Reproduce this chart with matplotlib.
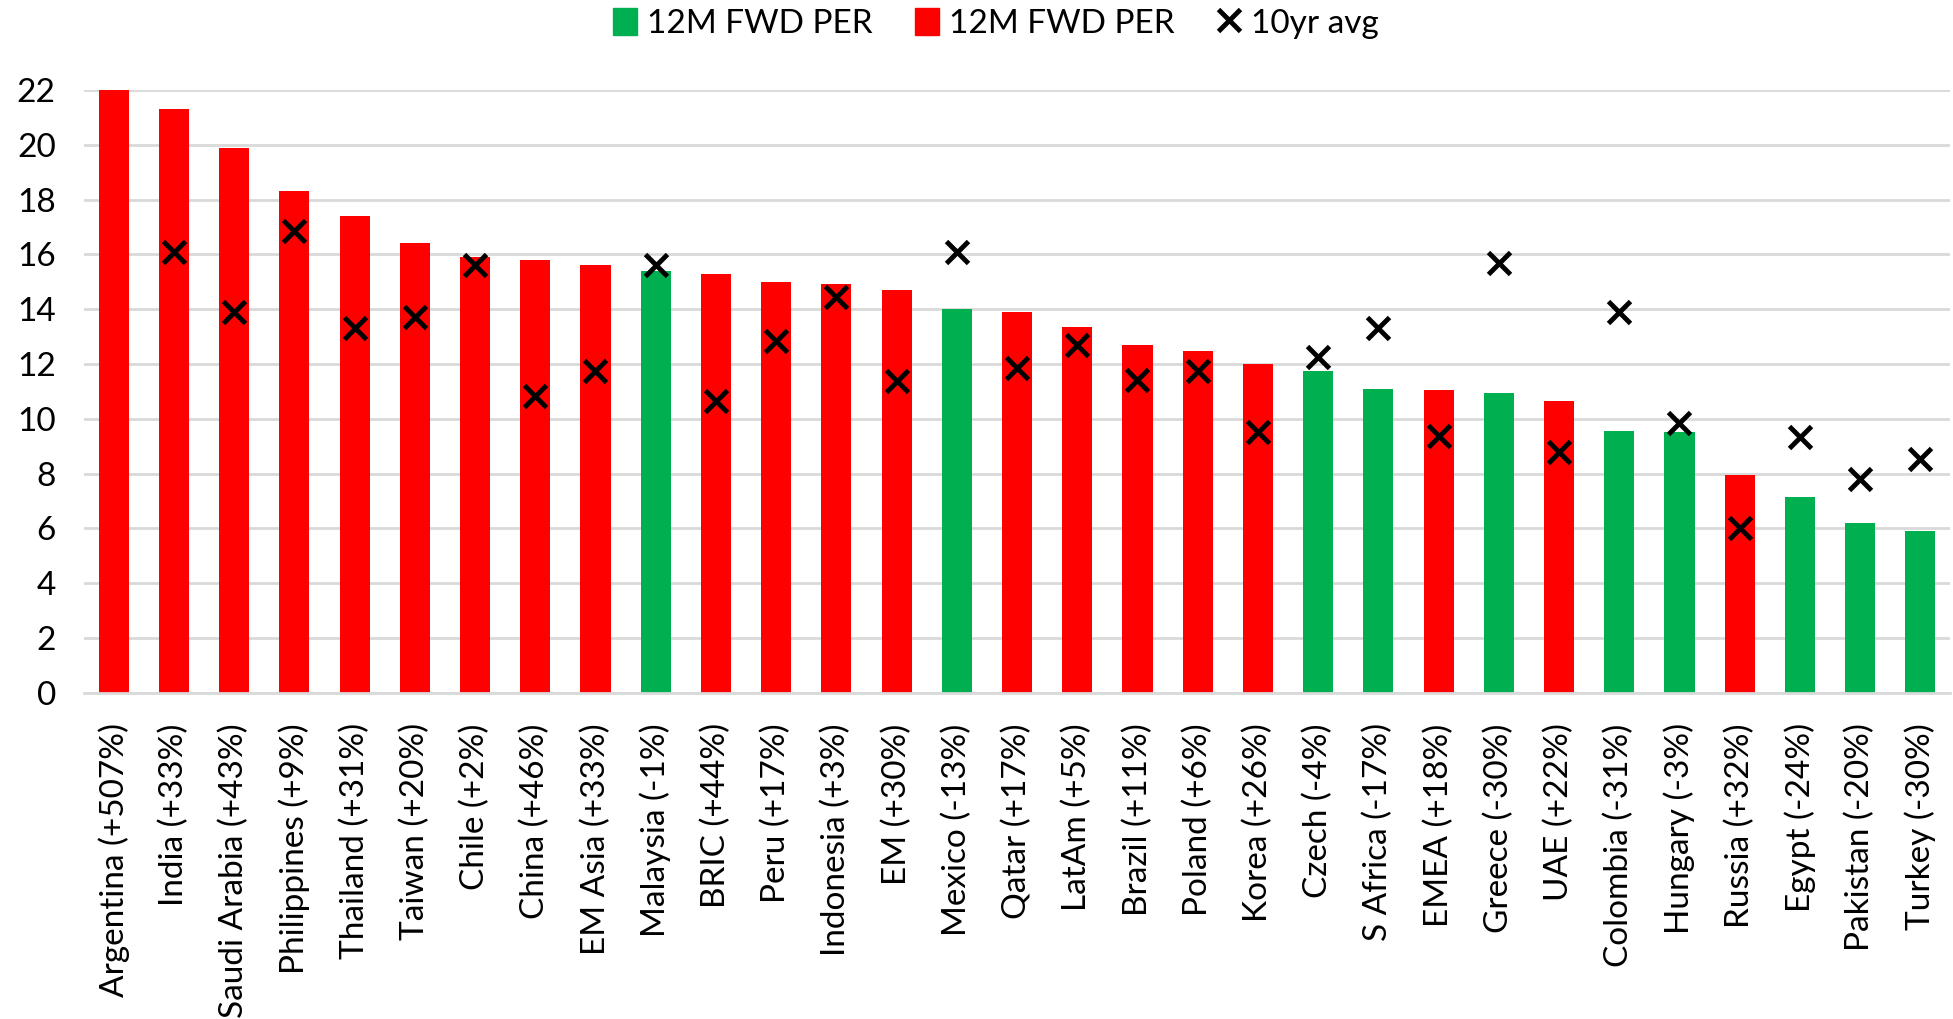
import numpy as np
import matplotlib
matplotlib.use("Agg")
import matplotlib.pyplot as plt
from matplotlib.lines import Line2D
from matplotlib.patches import Patch

plt.rcParams['font.family'] = ['Lato', 'DejaVu Sans']

countries = ["Argentina", "India", "Saudi Arabia", "Philippines", "Thailand", "Taiwan", "Chile",
             "China", "EM Asia", "Malaysia", "BRIC", "Peru", "Indonesia", "EM", "Mexico", "Qatar",
             "LatAm", "Brazil", "Poland", "Korea", "Czech", "S Africa", "EMEA", "Greece", "UAE",
             "Colombia", "Hungary", "Russia", "Egypt", "Pakistan", "Turkey"]
pct = ["+507%", "+33%", "+43%", "+9%", "+31%", "+20%", "+2%", "+46%", "+33%", "-1%", "+44%",
       "+17%", "+3%", "+30%", "-13%", "+17%", "+5%", "+11%", "+6%", "+26%", "-4%", "-17%",
       "+18%", "-30%", "+22%", "-31%", "-3%", "+32%", "-24%", "-20%", "-30%"]
fwd_per = [22.0, 21.3, 19.9, 18.3, 17.4, 16.4, 15.9, 15.8, 15.6, 15.4, 15.3, 15.0, 14.9, 14.7,
           14.0, 13.9, 13.35, 12.7, 12.48, 12.0, 11.75, 11.07, 11.05, 10.95, 10.65, 9.55, 9.5,
           7.93, 7.15, 6.2, 5.92]
avg_10yr = [np.nan, 16.08, 13.9, 16.86, 13.3, 13.7, 15.6, 10.84, 11.75, 15.6, 10.66, 12.85,
            14.45, 11.39, 16.08, 11.85, 12.7, 11.43, 11.75, 9.52, 12.25, 13.3, 9.38, 15.67,
            8.79, 13.9, 9.84, 6.01, 9.34, 7.79, 8.52]

green = "#00B050"
red = "#FF0000"

labels = [c + " (" + p + ")" for c, p in zip(countries, pct)]
colors = [green if p.startswith("-") else red for p in pct]
xpos = np.arange(len(countries))

fig = plt.figure(figsize=(19.53, 10.19), dpi=100)
ax = fig.add_axes([0.0428, 0.3202, 0.9559, 0.5915])

ax.bar(xpos, fwd_per, width=0.5, color=colors, zorder=2)
ax.plot(xpos, avg_10yr, linestyle="none", marker="x", markersize=16, markeredgewidth=3.5,
        color="black", zorder=3)

ax.set_xlim(-0.5, len(countries) - 0.5)
ax.set_ylim(0, 22)
ax.set_yticks(np.arange(0, 23, 2))
ax.yaxis.grid(True, color="#D9D9D9", linewidth=2, zorder=0)
ax.set_axisbelow(True)
for s in ["top", "right", "left"]:
    ax.spines[s].set_visible(False)
ax.spines["bottom"].set_color("#D9D9D9")
ax.spines["bottom"].set_linewidth(2)

ax.set_xticks(xpos)
ax.set_xticklabels(labels, rotation=90, fontsize=24)
ax.tick_params(axis="x", length=0, pad=22)
ax.tick_params(axis="y", length=0, labelsize=24, pad=20)

handles = [Patch(color=green, label="12M FWD PER"),
           Patch(color=red, label="12M FWD PER"),
           Line2D([], [], linestyle="none", marker="x", markersize=16, markeredgewidth=3.5,
                  color="black", label="10yr avg")]
fig.legend(handles=handles, loc="upper center", bbox_to_anchor=(0.51, 1.022), ncol=3,
           frameon=False, fontsize=24, handlelength=0.7, handleheight=0.9,
           handletextpad=0.3, columnspacing=1.3)

fig.savefig("out.png", dpi=100)
